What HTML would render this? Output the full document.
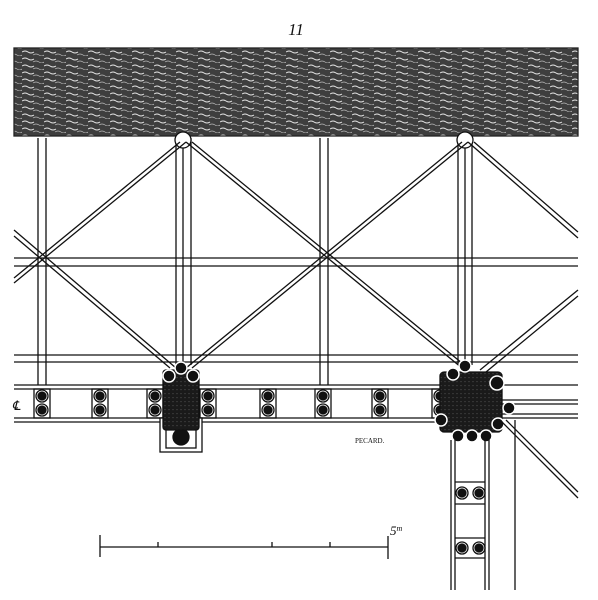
<!DOCTYPE html>
<html><head><meta charset="utf-8"><style>
html,body{margin:0;padding:0;background:#fff;width:598px;height:600px;overflow:hidden}
svg{display:block}
text{font-family:"Liberation Serif",serif}
</style></head><body>
<svg width="598" height="600" viewBox="0 0 598 600" stroke="#111" fill="none" stroke-width="1.3">
<defs>
<pattern id="wave" width="22" height="7" patternUnits="userSpaceOnUse">
<rect width="22" height="7" fill="#3e3e3e" stroke="none"/>
<path d="M0 3 q3 -2 6 0 t6 0" stroke="#e8e8e8" stroke-width="0.9"/>
<path d="M11 6 q3 -2 6 0 t5 0" stroke="#bbb" stroke-width="0.7"/>
</pattern>
<pattern id="blk" width="4" height="4" patternUnits="userSpaceOnUse">
<rect width="4" height="4" fill="#1a1a1a" stroke="none"/>
<path d="M0 2 q1 -1 2 0" stroke="#555" stroke-width="0.5"/>
</pattern>
</defs>
<text x="296" y="35" font-size="17" font-style="italic" fill="#111" stroke="none" text-anchor="middle">11</text>
<rect x="14" y="48" width="564" height="88" fill="url(#wave)" stroke="#222"/>

<g>
<!-- posts -->
<line x1="38" y1="138" x2="38" y2="385"/><line x1="46" y1="138" x2="46" y2="385"/>
<line x1="176" y1="138" x2="176" y2="365"/><line x1="183" y1="145" x2="183" y2="365"/><line x1="191" y1="138" x2="191" y2="365"/>
<line x1="320" y1="138" x2="320" y2="385"/><line x1="328" y1="138" x2="328" y2="385"/>
<line x1="458" y1="138" x2="458" y2="365"/><line x1="465" y1="145" x2="465" y2="365"/><line x1="472" y1="138" x2="472" y2="365"/>
<circle cx="183" cy="140" r="8" fill="#fff"/><circle cx="465" cy="140" r="8" fill="#fff"/>
<!-- horizontals -->
<line x1="14" y1="258" x2="578" y2="258"/><line x1="14" y1="266" x2="578" y2="266"/>
<line x1="14" y1="355" x2="578" y2="355"/><line x1="14" y1="362" x2="578" y2="362"/>
<!-- diagonals -->
<line x1="186" y1="142" x2="462" y2="368"/><line x1="192" y1="142" x2="468" y2="368" />
<line x1="462" y1="142" x2="186" y2="368"/><line x1="468" y1="142" x2="192" y2="368"/>
<line x1="180" y1="142" x2="14" y2="278"/><line x1="186" y1="142" x2="14" y2="283"/>
<line x1="14" y1="230" x2="176" y2="368"/><line x1="14" y1="236" x2="170" y2="368"/>
<line x1="468" y1="142" x2="578" y2="238"/><line x1="474" y1="142" x2="578" y2="232"/>
<line x1="578" y1="290" x2="480" y2="370"/><line x1="578" y1="296" x2="486" y2="372"/>
</g>

<g>
<line x1="14" y1="385" x2="578" y2="385"/><line x1="14" y1="389" x2="440" y2="389"/>
<line x1="14" y1="418" x2="440" y2="418"/><line x1="14" y1="422" x2="440" y2="422"/>
<line x1="500" y1="400" x2="578" y2="400"/><line x1="500" y1="404" x2="578" y2="404"/>
<line x1="500" y1="414" x2="578" y2="414"/><line x1="500" y1="418" x2="578" y2="418"/>
</g>
<g id="bolts"></g>

<g>
<rect x="160" y="418" width="42" height="34" fill="#fff"/>
<rect x="166" y="422" width="30" height="26"/>
<circle cx="181" cy="437" r="8" fill="#111"/>
<rect x="163" y="370" width="36" height="60" rx="3" fill="url(#blk)"/>
<circle cx="169" cy="376" r="6" fill="#111" stroke="#fff" stroke-width="1.5"/>
<circle cx="181" cy="368" r="6" fill="#111" stroke="#fff" stroke-width="1.5"/>
<circle cx="193" cy="376" r="6" fill="#111" stroke="#fff" stroke-width="1.5"/>
</g>
<g>
<rect x="440" y="372" width="62" height="60" rx="4" fill="url(#blk)"/>
<circle cx="465" cy="366" r="6" fill="#111" stroke="#fff" stroke-width="1.5"/>
<circle cx="453" cy="374" r="6" fill="#111" stroke="#fff" stroke-width="1.5"/>
<circle cx="497" cy="383" r="7" fill="#111" stroke="#fff" stroke-width="1.5"/>
<circle cx="509" cy="408" r="6" fill="#111" stroke="#fff" stroke-width="1.5"/>
<circle cx="498" cy="424" r="6" fill="#111" stroke="#fff" stroke-width="1.5"/>
<circle cx="472" cy="436" r="6" fill="#111" stroke="#fff" stroke-width="1.5"/>
<circle cx="486" cy="436" r="6" fill="#111" stroke="#fff" stroke-width="1.5"/>
<circle cx="458" cy="436" r="6" fill="#111" stroke="#fff" stroke-width="1.5"/>
<circle cx="441" cy="420" r="6" fill="#111" stroke="#fff" stroke-width="1.5"/>
</g>
<g>
<line x1="451" y1="440" x2="451" y2="590"/><line x1="455" y1="440" x2="455" y2="590"/>
<line x1="485" y1="440" x2="485" y2="590"/><line x1="489" y1="440" x2="489" y2="590"/>
<line x1="515" y1="420" x2="515" y2="590"/>
<line x1="455" y1="482" x2="485" y2="482"/><line x1="455" y1="504" x2="485" y2="504"/>
<line x1="455" y1="538" x2="485" y2="538"/><line x1="455" y1="558" x2="485" y2="558"/>
<line x1="500" y1="420" x2="578" y2="498"/><line x1="506" y1="420" x2="578" y2="492"/>
</g>
<text x="12" y="410" font-size="13" font-style="italic" fill="#111" stroke="none">℄</text>
<text x="355" y="443" font-size="7" fill="#111" stroke="none" font-family="Liberation Sans">PECARD.</text>
<g>
<line x1="100" y1="547" x2="388" y2="547"/>
<line x1="100" y1="535" x2="100" y2="557"/><line x1="388" y1="536" x2="388" y2="559"/>
<line x1="158" y1="542" x2="158" y2="547"/><line x1="272" y1="542" x2="272" y2="547"/><line x1="330" y1="542" x2="330" y2="547"/>
<text x="390" y="535" font-size="13" font-style="italic" fill="#111" stroke="none">5<tspan font-size="8" dy="-4">m</tspan></text>
</g>
</svg>
<script>
const boltCols=[42,100,155,208,268,323,380,440];
const boltRows=[396,410];
const vBoltRows=[493,548];
const vBoltCols=[462,479];
const g=document.getElementById('bolts');
const NS='http://www.w3.org/2000/svg';
function bolt(x,y){
  const o=document.createElementNS(NS,'circle');
  o.setAttribute('cx',x);o.setAttribute('cy',y);o.setAttribute('r',6);o.setAttribute('fill','#fff');
  
  
  g.appendChild(o);
  const c=document.createElementNS(NS,'circle');
  c.setAttribute('cx',x);c.setAttribute('cy',y);c.setAttribute('r',4);c.setAttribute('fill','#111');
  
  
  g.appendChild(c);
}
boltCols.forEach(x=>{
  const r=document.createElementNS(NS,'rect');
  r.setAttribute('x',x-8);r.setAttribute('y',389);r.setAttribute('width',16);r.setAttribute('height',29);
  
  
  g.appendChild(r);
  boltRows.forEach(y=>bolt(x,y));
});
vBoltRows.forEach(y=>vBoltCols.forEach(x=>bolt(x,y)));
</script>
</body></html>
